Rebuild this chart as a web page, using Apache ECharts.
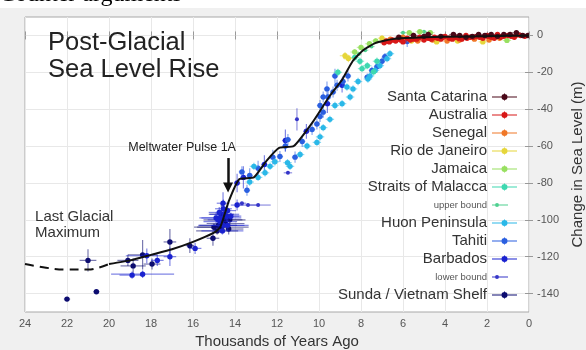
<!DOCTYPE html>
<html>
<head>
<meta charset="utf-8">
<script src="https://cdn.jsdelivr.net/npm/echarts@6/dist/echarts.min.js"></script>
<style>
html,body{margin:0;padding:0;background:#fff;}
#bg{position:absolute;left:0;top:8px;width:586px;height:342px;background:#f0f0f0;}
#chart{position:absolute;left:0;top:0;width:586px;height:350px;}
</style>
</head>
<body>
<div id="bg"></div>
<div id="chart"></div>
<script>
// ---- data: [thousands of years ago, sea level change (m), x error, y error]
const xTicks = [24, 22, 20, 18, 16, 14, 12, 10, 8, 6, 4, 2, 0];
const yTicks = [-140, -120, -100, -80, -60, -40, -20, 0];

const sunda = [[22.0,-143,0.15,1],[20.6,-139,0.15,1],[21.0,-122,0.4,6],[19.1,-122,0.5,3],[18.85,-125,0.6,4],
  [18.4,-119,0.7,8],[17.95,-124,0.4,3],[17.1,-112,0.3,7],[16.15,-114,0.2,4],[15.05,-110,0.3,4],
  [14.8,-103,0.9,4],[14.5,-100,1.0,3],[14.3,-105,0.7,3],[14.65,-97,0.6,6],[15.0,-104,0.8,2],[14.85,-106,1.0,2],
  [14.45,-102,0.9,2],[14.25,-100,0.6,3],[14.65,-104,1.3,2]];
const barbados = [[18.9,-130,0.6,2],[18.4,-129.5,1.5,2],[18.2,-119.5,1.0,4],[17.7,-122,0.3,3],[17.1,-120,0.3,5],
  [15.9,-115.5,0.3,3],[14.7,-101,0.8,3],[14.55,-103,1.2,2],[14.4,-98,0.6,3],[14.9,-99,0.7,3],[14.35,-95,0.4,4],
  [14.6,-106,1.0,2],[14.75,-96,0.5,3],[14.57,-91,0.3,6],[13.9,-92,0.3,3],[13.9,-80,0.15,5],[13.6,-77,0.15,6],
  [12.6,-70,0.15,5],[11.6,-57,0.15,6],[10.6,-52,0.15,4],[9.6,-37,0.15,5],[8.9,-27,0.15,4],
  [14.5,-97,0.7,2],[14.7,-99,1.0,2],[14.35,-103,0.8,3],[14.8,-100,0.5,4],[14.55,-94,0.4,5],[14.2,-98,0.5,2]];
const lowerBound = [[11.05,-45.5,0,6],[11.48,-74.5,0.2,0],[13.38,-92,0.5,0],[12.9,-92,0.6,0],[13.67,-91,0.2,0]];
const tahiti = [[13.67,-74,0.15,3],[13.43,-84,0.15,3],[11.86,-65.7,0.15,3],[11.6,-60,0.15,3],[11.48,-56.5,0.15,3],
  [11.14,-66,0.15,3],[10.8,-57.5,0.15,3],[10.33,-51,0.15,3],[10.1,-48,0.15,3],[9.95,-44,0.15,3],[9.8,-41.6,0.15,3],
  [9.57,-33.4,0.15,3],[9.33,-30.7,0.15,3],[9.14,-27,0.15,3],[8.86,-25,0.15,3],[8.62,-22,0.15,3],[9.24,-22,0.15,4],
  [9.62,-29,0.15,4],[9.8,-33.4,0.15,3],[9.95,-38,0.15,3],[7.7,-22.6,0.15,2],[7.48,-19,0.15,2],[7.24,-17,0.15,2],
  [7.0,-14,0.15,2],[6.86,-11.5,0.15,2],[5.8,-3.3,0.15,3],[12.9,-72,0.15,4],[12.2,-66,0.15,4],[13.3,-76,0.15,4]];
const huon = [[13.3,-79.5,0.2,2],[12.9,-77,0.2,2],[12.57,-74.5,0.2,2],[12.33,-71,0.2,2],[12.1,-68.5,0.2,2],
  [11.5,-69,0.2,2],[11.38,-71,0.2,2],[10.9,-64.6,0.2,2],[10.57,-60,0.2,2],[10.1,-58,0.2,2],[9.95,-55,0.2,2],
  [9.8,-50,0.2,2],[9.48,-45.5,0.2,2],[9.24,-38,0.2,2],[8.9,-37,0.2,2],[8.52,-33.4,0.2,2],[8.67,-28,0.2,2],
  [8.38,-29,0.2,2],[8.14,-25,0.2,2],[7.67,-23.6,0.2,2],[7.57,-22,0.2,2],[7.33,-19,0.2,2],[7.1,-16.4,0.2,2],
  [6.76,-12.6,0.2,2],[6.62,-9.9,0.2,2],[13.1,-71,0.2,2]];
const malacca = [[8.05,-14,0.2,2],[7.95,-18,0.2,2],[7.7,-16.4,0.2,2],[7.4,-19.7,0.2,2],[7.24,-14,0.2,2],
  [8.3,-12,0.2,2],[9.1,-20,0.2,2]];
const upperBound = [[8.1,-10,0.15,0],[7.8,-8,0.15,0],[7.5,-6,0.15,0],[6.0,1.5,0.15,0],[5.0,2,0.15,0]];
const jamaica = [[8.3,-9,0.2,1.5],[8.0,-6.5,0.2,1.5],[7.6,-4.5,0.2,1.5],[7.3,-3,0.2,1.5],[5.7,1.5,0.2,1],
  [5.2,2,0.2,1],[4.7,1.5,0.2,1],[1.05,-2.7,0.2,1]];
const rio = [[8.76,-11,0.25,2],[8.6,-12.5,0.25,2],[7.0,-1.5,0.2,1.5],[5.6,-3,0.2,1],[4.4,-3.5,0.2,1],
  [3.4,-3,0.2,1],[2.2,-3.5,0.2,1]];
const senegal = [[6.6,-2,0.2,1],[6.0,-1,0.2,1],[5.3,-3,0.2,1],[4.6,-2.5,0.2,1],[3.9,-3,0.2,1],[3.3,-2.5,0.2,1],
  [2.6,-2,0.2,1],[1.9,-2.5,0.2,1],[1.4,-1.5,0.2,1]];
const australia = [[6.8,-3,0.2,1],[6.5,-2.5,0.2,1],[6.2,-2,0.2,1],[6.0,-3.5,0.2,1],[5.8,-1.5,0.2,1],[5.5,-2,0.2,1],
  [5.2,-1,0.2,1],[5.0,-2.5,0.2,1],[4.8,-1.5,0.2,1],[4.5,-1,0.2,1],[4.2,-2,0.2,1],[4.0,-0.5,0.2,1],[3.8,-1.5,0.2,1],
  [3.5,-1,0.2,1],[3.2,-2,0.2,1],[3.0,0,0.2,1],[2.8,-1,0.2,1],[2.5,-0.5,0.2,1],[2.2,-1.5,0.2,1],[2.0,0,0.2,1],
  [1.8,-1,0.2,1],[1.5,0.5,0.2,1],[1.2,-0.5,0.2,1],[1.0,0,0.2,1],[0.7,-1,0.2,1],[0.4,0,0.2,1],
  [6.9,-4,0.2,1],[6.65,-3.5,0.2,1],[6.35,-3,0.2,1],[6.1,-2.5,0.2,1],[5.65,-2.5,0.2,1],[5.35,-2,0.2,1],
  [4.9,-1,0.2,1],[4.65,-2,0.2,1],[4.35,-1.5,0.2,1],[4.1,-1,0.2,1],[3.65,-2,0.2,1],[3.35,-1.5,0.2,1],
  [2.95,-1.5,0.2,1],[2.65,-1,0.2,1],[2.35,-1,0.2,1],[1.95,-0.5,0.2,1],[1.65,-1.5,0.2,1],[1.35,-1,0.2,1],
  [0.85,-0.5,0.2,1],[0.55,0.5,0.2,1],[0.2,-0.5,0.2,1]];
const santaCatarina = [[5.5,0,0.2,1],[4.8,0.5,0.2,1],[4.2,-0.5,0.2,1],[3.6,0.5,0.2,1],[3.0,-1,0.2,1],
  [2.4,0.5,0.2,1],[1.8,0.5,0.2,1],[1.2,0.5,0.2,1],[0.6,1.5,0.2,1],[0.3,0,0.2,1],[6.2,-1,0.2,1],[5.0,-0.5,0.2,1],
  [3.3,0,0.2,1],[2.7,-0.5,0.2,1],[2.1,0,0.2,1],[1.5,-0.5,0.2,1],[0.9,0.5,0.2,1],[0.05,0,0.1,0.5]];

const curve = [[20,-124],[19,-122],[18,-119],[17,-116],[16,-112],[15,-107],[14.7,-104],[14.3,-90],[13.8,-78],
  [13.1,-77],[12.5,-68],[11.9,-61],[11.2,-60],[10.3,-47],[9.5,-33],[8.9,-24],[8.4,-14],[7.9,-8],[7.3,-4],
  [6.5,-2],[5,-1],[3,-0.6],[1,-0.2],[0,0]];
const lgmCurve = [[24,-124],[23,-126],[22,-127],[21,-127],[20.5,-126],[20,-124]];

const legendOrder = ['Santa Catarina','Australia','Senegal','Rio de Janeiro','Jamaica','Straits of Malacca',
  'upper bound','Huon Peninsula','Tahiti','Barbados','lower bound','Sunda / Vietnam Shelf'];

// ---- chart
const FONT = '"Liberation Sans", Arial, Helvetica, sans-serif';
function errRender(radius) {
  return function (params, api) {
    const t = api.value(0), y = api.value(1), dx = api.value(2), dy = api.value(3);
    const c = api.coord([t, y]);
    const color = api.visual('color');
    const kids = [];
    if (dx > 0) {
      const a = api.coord([t + dx, y]), b = api.coord([t - dx, y]);
      kids.push({type:'line', shape:{x1:a[0], y1:c[1], x2:b[0], y2:c[1]}, style:{stroke:color, opacity:0.55, lineWidth:1.2}});
    }
    if (dy > 0) {
      const a = api.coord([t, y + dy]), b = api.coord([t, y - dy]);
      kids.push({type:'line', shape:{x1:c[0], y1:a[1], x2:c[0], y2:b[1]}, style:{stroke:color, opacity:0.55, lineWidth:1.2}});
    }
    kids.push({type:'circle', shape:{cx:c[0], cy:c[1], r:radius}, style:{fill:color}});
    return {type:'group', children:kids};
  };
}
function errSeries(name, data, color, radius) {
  return {
    type:'custom', name:name, data:data, renderItem:errRender(radius || 2.7),
    dimensions:['t','y','dx','dy'], encode:{x:0, y:1},
    itemStyle:{color:color}, clip:true, silent:true
  };
}
const iconBig = 'path://M0,4L25,4L25,5L0,5Z M12,1L13,1L13,8L12,8Z M15.5,4.5A3,3,0,1,1,9.5,4.5A3,3,0,1,1,15.5,4.5Z';
const iconSmall = 'path://M0,4L16,4L16,5L0,5Z M7,4.5A2,2,0,1,1,3,4.5A2,2,0,1,1,7,4.5Z M24.95,0L25,0L25,0.05Z M24.95,8.95L25,9L24.95,9Z';

const chart = echarts.init(document.getElementById('chart'), null, {renderer:'canvas'});
chart.setOption({
  backgroundColor:'transparent',
  animation:false,
  textStyle:{fontFamily:FONT},
  title:{
    text:'Post-Glacial\nSea Level Rise', left:43, top:24,
    textStyle:{fontFamily:FONT, fontSize:25.5, fontWeight:'normal', color:'#222', lineHeight:27}
  },
  graphic:[{
    type:'text', x:-1, y:-17,
    style:{text:'Counter arguments', font:'24px "Liberation Serif", "Times New Roman", serif', fill:'#000'}
  }],
  grid:{left:25, right:57, top:17, bottom:38, show:true, backgroundColor:'#fff', borderColor:'#a8a8a8', borderWidth:1,
    containLabel:false, outerBoundsMode:'none'},
  legend:{
    orient:'vertical', right:69, top:88, align:'right', itemWidth:25, itemHeight:9, itemGap:0, padding:0,
    selectedMode:false,
    textStyle:{fontFamily:FONT, fontSize:15, color:'#333', lineHeight:18},
    data:legendOrder.map(function (n) {
      const small = (n === 'upper bound' || n === 'lower bound');
      return small ? {name:n, icon:iconSmall, textStyle:{fontSize:9.5, color:'#555', lineHeight:18}}
                   : {name:n, icon:iconBig};
    })
  },
  xAxis:[{
    type:'value', inverse:true, min:0, max:24, interval:2, position:'bottom',
    name:'Thousands of Years Ago', nameLocation:'middle', nameGap:22,
    nameTextStyle:{fontFamily:FONT, fontSize:15, color:'#333'},
    axisLine:{show:false},
    axisTick:{show:true, inside:true, length:4, lineStyle:{color:'#999'}},
    axisLabel:{fontFamily:FONT, fontSize:11, color:'#555', margin:6},
    splitLine:{show:true, lineStyle:{color:'#e8e8e8', width:1}}
  },{
    type:'value', inverse:true, min:0, max:24, interval:2, position:'top',
    axisLine:{show:false}, axisLabel:{show:false},
    axisTick:{show:true, inside:true, length:4, lineStyle:{color:'#999'}},
    splitLine:{show:false}
  }],
  yAxis:[{
    type:'value', min:-150, max:10, position:'right',
    name:'Change in Sea Level (m)', nameLocation:'middle', nameGap:39, nameRotate:90,
    nameTextStyle:{fontFamily:FONT, fontSize:15, color:'#333'},
    axisLine:{show:false},
    axisTick:{show:true, inside:true, length:4, customValues:yTicks, lineStyle:{color:'#999'}},
    axisLabel:{fontFamily:FONT, fontSize:11, color:'#555', margin:8, customValues:yTicks},
    splitLine:{show:true, lineStyle:{color:'#e8e8e8', width:1}}
  },{
    type:'value', min:-150, max:10, position:'left',
    axisLine:{show:false}, axisLabel:{show:false},
    axisTick:{show:true, inside:true, length:4, customValues:yTicks, lineStyle:{color:'#999'}},
    splitLine:{show:false}
  }],
  series:[
    errSeries('Sunda / Vietnam Shelf', sunda, '#0c0c70'),
    errSeries('Barbados', barbados, '#1a22d0'),
    errSeries('lower bound', lowerBound, '#3535c8', 2),
    errSeries('Tahiti', tahiti, '#2a5fe0'),
    errSeries('Huon Peninsula', huon, '#2ab8e8'),
    errSeries('Straits of Malacca', malacca, '#3ed8b0'),
    errSeries('upper bound', upperBound, '#4ed090', 2),
    errSeries('Jamaica', jamaica, '#98e060'),
    errSeries('Rio de Janeiro', rio, '#e6d63a'),
    errSeries('Senegal', senegal, '#f07828'),
    errSeries('Australia', australia, '#d81818'),
    errSeries('Santa Catarina', santaCatarina, '#4a0818'),
    {
      type:'line', data:lgmCurve, showSymbol:false, smooth:0.4, silent:true, z:5,
      lineStyle:{color:'#111', width:2, type:[9,6]}
    },
    {
      type:'line', data:curve, showSymbol:false, smooth:0.15, silent:true, z:5,
      lineStyle:{color:'#111', width:2},
      markLine:{
        silent:true, symbol:['none','triangle'], symbolSize:[10,10], label:{show:false},
        lineStyle:{color:'#111', width:2.5, type:'solid'},
        data:[[{coord:[14.33,-66.5]},{coord:[14.33,-82.5]}]]
      },
      markPoint:{
        silent:true, symbolSize:0,
        data:[
          {coord:[16.52,-60.8], label:{show:true, position:'inside', formatter:'Meltwater Pulse 1A',
            fontFamily:FONT, fontSize:12.5, color:'#222'}},
          {coord:[23.52,-103], label:{show:true, position:'right', distance:0, align:'left',
            formatter:'Last Glacial\nMaximum', fontFamily:FONT, fontSize:15, lineHeight:16, color:'#333'}}
        ]
      }
    }
  ]
});
</script>
</body>
</html>
